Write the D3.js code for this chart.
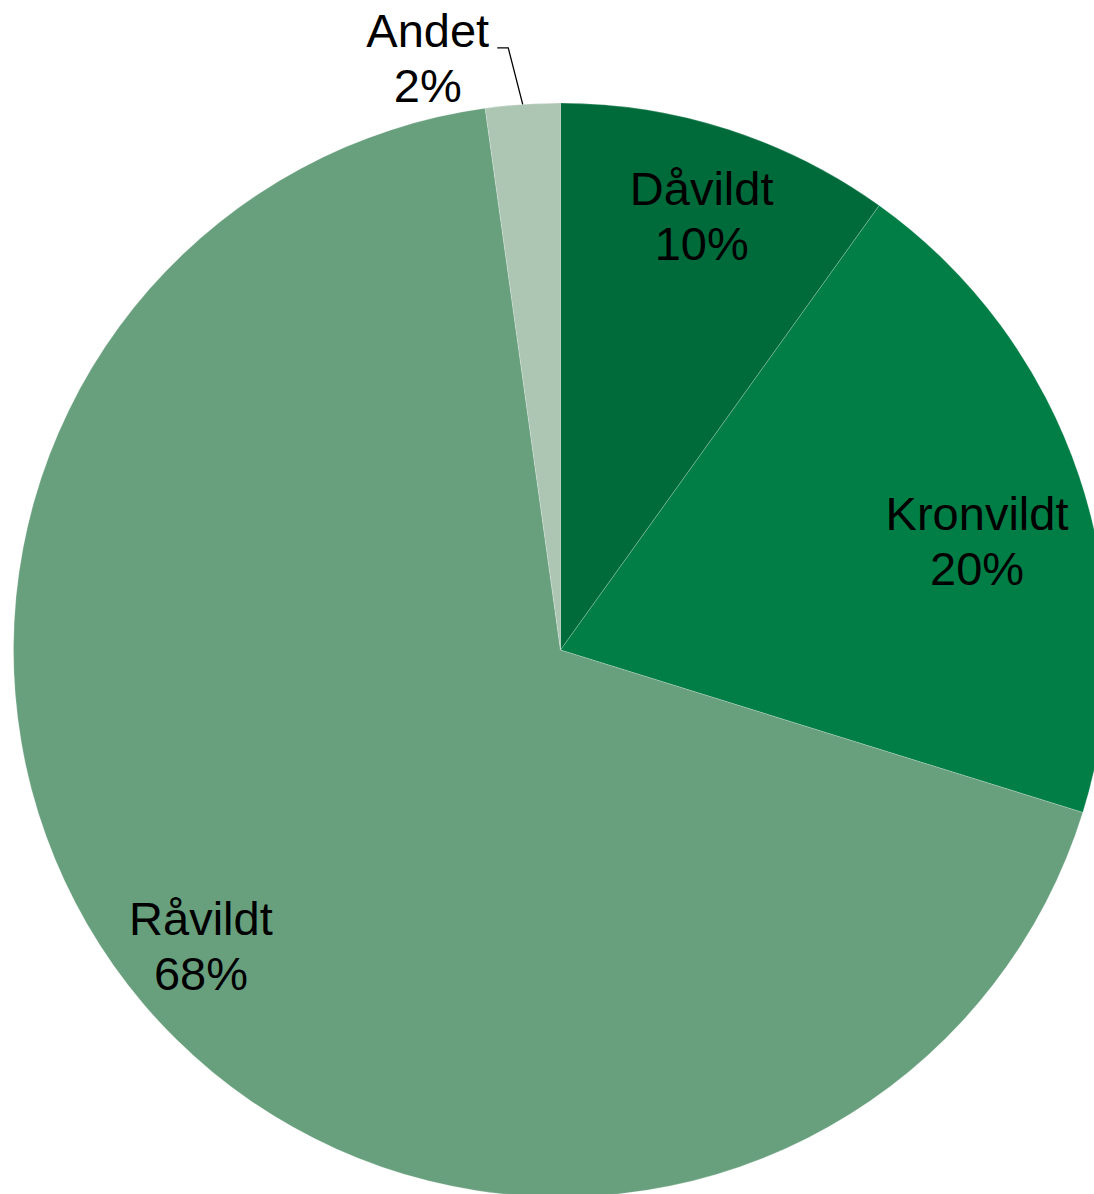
<!DOCTYPE html>
<html>
<head>
<meta charset="utf-8">
<script src="https://cdn.jsdelivr.net/npm/d3@7"></script>
<style>
  html, body { margin: 0; padding: 0; background: #ffffff; }
  svg { display: block; }
  text { font-family: "Liberation Sans", Arial, sans-serif; fill: #000; }
</style>
</head>
<body>
<svg id="chart" width="1094" height="1194"></svg>
<script>
// ---- data ----
const categories = ["Dåvildt", "Kronvildt", "Råvildt", "Andet"];
const values = [9.9, 19.9, 68.0, 2.2];
const colors = ["#006B3A", "#007E46", "#68A07E", "#ADC6B4"];

// ---- layout ----
const W = 1094, H = 1194;
const cx = 560.5, cy = 650, R = 547;
const fontSize = 47, lineGap = 55;
// label anchor (angle in degrees clockwise from 12 o'clock, radius as fraction of R)
const labelAngle = [18.7, 77.5, 229.0, 347.0];
const labelRadius = [0.805, 0.78, 0.871, 1.079];

const svg = d3.select("#chart");
const g = svg.append("g").attr("transform", `translate(${cx},${cy})`);

const total = d3.sum(values);
const pie = d3.pie().sort(null).value(d => d.v);
const arcs = pie(categories.map((c, i) => ({ c, v: values[i], i })));
const arc = d3.arc().innerRadius(0).outerRadius(R);

g.selectAll("path.slice").data(arcs).join("path")
  .attr("class", "slice")
  .attr("d", arc)
  .attr("fill", d => colors[d.data.i])
  .attr("stroke", "#ffffff")
  .attr("stroke-opacity", 0.35)
  .attr("stroke-width", 0.6);

function polar(deg, r) {
  const a = deg * Math.PI / 180;
  return [Math.sin(a) * r, -Math.cos(a) * r];
}

const labels = g.selectAll("text.lbl").data(arcs).join("text")
  .attr("class", "lbl")
  .attr("text-anchor", "middle")
  .attr("font-size", fontSize);

labels.each(function(d) {
  const i = d.data.i;
  const [x, y] = polar(labelAngle[i], labelRadius[i] * R);
  const t = d3.select(this);
  t.append("tspan").attr("x", x).attr("y", y - lineGap / 2).text(d.data.c);
  t.append("tspan").attr("x", x).attr("y", y + lineGap / 2)
    .text(Math.round(d.data.v / total * 100) + "%");
});

// leader line for the small "Andet" slice
const small = arcs[3];
const mid = (small.startAngle + small.endAngle) / 2 * 180 / Math.PI;
const p0 = polar(mid, R);
const p1 = polar(mid - 1.0, R * 1.105);
const p2 = [p1[0] - 11, p1[1]];
g.append("path")
  .attr("d", d3.line()([p0, p1, p2]))
  .attr("fill", "none")
  .attr("stroke", "#000")
  .attr("stroke-width", 1.3);
</script>
</body>
</html>
